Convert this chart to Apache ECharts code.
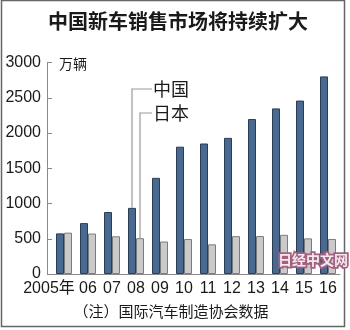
<!DOCTYPE html>
<html>
<head>
<meta charset="utf-8">
<script src="https://cdn.jsdelivr.net/npm/echarts@6/dist/echarts.min.js"></script>
<style>
html,body{margin:0;padding:0;background:#fff;}
#c{width:350px;height:330px;}
</style>
</head>
<body>
<div id="c"></div>
<script>
const years = ['2005年','06','07','08','09','10','11','12','13','14','15','16'];
const china = [576, 722, 879, 938, 1364, 1806, 1851, 1931, 2198, 2349, 2460, 2803];
const japan = [586, 574, 535, 508, 461, 496, 421, 537, 538, 556, 505, 497];
const yTicks = [0, 500, 1000, 1500, 2000, 2500, 3000];
const titleText = '中国新车销售市场将持续扩大';
const unitText = '万辆';
const seriesNames = ['中国', '日本'];
const noteText = '（注）国际汽车制造协会数据';
const markText = '日经中文网';

const NUM = 'Liberation Sans, Arial, Noto Sans CJK SC, sans-serif';
const CJK = 'Noto Sans CJK SC, sans-serif';
const AX = '#8a8a8a';

const chart = echarts.init(document.getElementById('c'), null, {renderer: 'canvas'});
const option = {
  backgroundColor: '#fff',
  animation: false,
  title: {
    text: titleText,
    left: 173, top: 6, textAlign: 'center',
    textStyle: {fontFamily: CJK, fontSize: 20, fontWeight: 'bold', color: '#1a1a1a'}
  },
  grid: {left: 52, right: 10, top: 62.5, bottom: 56, containLabel: false},
  xAxis: {
    type: 'category', data: years,
    axisLine: {lineStyle: {color: AX, width: 1}},
    axisTick: {show: false},
    axisLabel: {
      interval: 0, margin: 7, fontFamily: NUM, fontSize: 16, color: '#1a1a1a',
      formatter: (v, i) => i === 0 ? '{a|' + v + '}' : v,
      rich: {a: {fontFamily: NUM, fontSize: 16, color: '#1a1a1a', padding: [0, 30, 0, 0]}}
    }
  },
  yAxis: {
    type: 'value', min: yTicks[0], max: yTicks[yTicks.length - 1], interval: 500,
    offset: 5,
    name: unitText, nameLocation: 'end', nameGap: -1,
    nameTextStyle: {fontFamily: CJK, fontSize: 14, color: '#1a1a1a', align: 'left', verticalAlign: 'middle', padding: [0, 0, 0, 12]},
    axisLine: {show: true, lineStyle: {color: AX, width: 1}},
    axisTick: {show: true, inside: true, length: 5, lineStyle: {color: AX}},
    axisLabel: {margin: 6, fontFamily: NUM, fontSize: 16, color: '#1a1a1a', formatter: v => String(v)},
    splitLine: {show: false}
  },
  series: [
    {name: seriesNames[0], type: 'bar', data: china, barWidth: 8, barGap: '0%',
     itemStyle: {color: '#4a6990', borderColor: '#2b3d55', borderWidth: 1}},
    {name: seriesNames[1], type: 'bar', data: japan, barWidth: 8,
     itemStyle: {color: '#cacaca', borderColor: '#7c7c7c', borderWidth: 1}}
  ]
};
chart.setOption(option);

const pC = chart.convertToPixel({xAxisIndex: 0, yAxisIndex: 0}, [3, china[3]]);
const pJ = chart.convertToPixel({xAxisIndex: 0, yAxisIndex: 0}, [3, japan[3]]);
const p0 = chart.convertToPixel({xAxisIndex: 0, yAxisIndex: 0}, [0, 0]);
const xc = pC[0] - 4, xj = pJ[0] + 4;
const LC = '#9a9a9a';
chart.setOption({
  graphic: [
    {type: 'rect', z: 100, shape: {x: 1.5, y: 0.5, width: 343, height: 326}, style: {fill: 'none', stroke: '#666', lineWidth: 1.5}, silent: true},
    {type: 'line', z: 100, shape: {x1: 47, y1: p0[1] + 0.5, x2: 53, y2: p0[1] + 0.5}, style: {stroke: AX, lineWidth: 1}},
    {type: 'polyline', z: 100, shape: {points: [[xc, pC[1]], [xc, 89], [152, 89]]}, style: {stroke: LC, lineWidth: 1.2, fill: null}},
    {type: 'polyline', z: 100, shape: {points: [[xj, pJ[1]], [xj, 113], [152, 113]]}, style: {stroke: LC, lineWidth: 1.2, fill: null}},
    {type: 'text', z: 100, x: 153, y: 89, style: {text: seriesNames[0], font: '18px ' + CJK, fill: '#1a1a1a', verticalAlign: 'middle'}},
    {type: 'text', z: 100, x: 153, y: 113, style: {text: seriesNames[1], font: '18px ' + CJK, fill: '#1a1a1a', verticalAlign: 'middle'}},
    {type: 'text', z: 100, x: 171, y: 311, style: {text: noteText, font: '15px ' + CJK, fill: '#1a1a1a', align: 'center', verticalAlign: 'middle'}},
    {type: 'text', z: 200, x: 313, y: 260, style: {text: markText, font: 'bold 14px ' + CJK, fill: '#f4e9ef', stroke: '#a3617f', lineWidth: 3.5, strokeFirst: true, align: 'center', verticalAlign: 'middle'}}
  ]
});
</script>
</body>
</html>
